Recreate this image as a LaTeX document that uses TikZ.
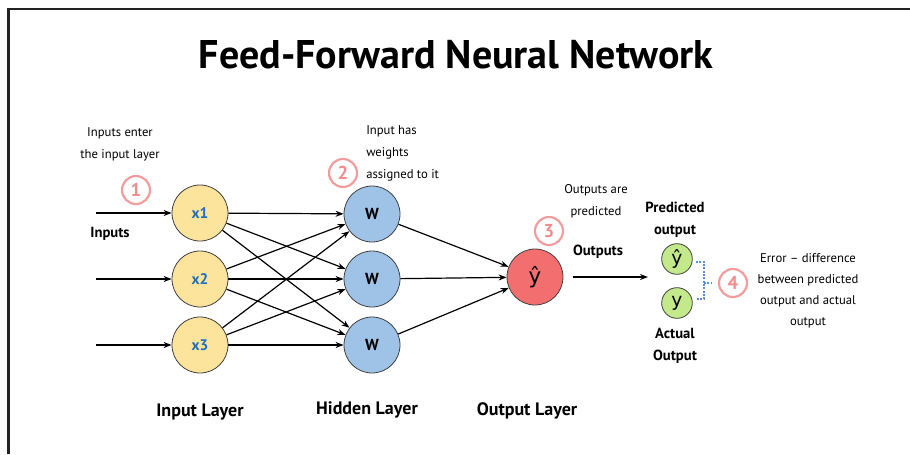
\documentclass[tikz,border=0pt]{standalone}
\usepackage{fontspec}
\setmainfont{PT Sans}
\newfontfamily\symfont{DejaVu Sans}
\usetikzlibrary{arrows.meta}

\definecolor{framegray}{HTML}{222222}
\definecolor{inyellow}{HTML}{FCE49C}
\definecolor{hidblue}{HTML}{9FC3E7}
\definecolor{outred}{HTML}{F36F6F}
\definecolor{resgreen}{HTML}{C3E98A}
\definecolor{steppink}{HTML}{F28B8B}
\definecolor{labelblue}{HTML}{1F6FC0}
\definecolor{bracketblue}{HTML}{5B8FD6}

\tikzset{
  neuron/.style={circle, draw=black!75, line width=0.6pt, minimum size=42pt, inner sep=0pt},
  innode/.style={neuron, fill=inyellow, text=labelblue, font=\bfseries\fontsize{11.5}{13}\selectfont},
  hidnode/.style={neuron, fill=hidblue, font=\bfseries\fontsize{12}{14}\selectfont},
  outnode/.style={neuron, fill=outred, font=\symfont\fontsize{16}{18}\selectfont},
  resnode/.style={neuron, fill=resgreen, minimum size=23pt, font=\symfont\fontsize{14}{16}\selectfont},
  stepmark/.style={circle, draw=steppink!85, line width=1.6pt, fill=white, minimum size=21pt,
    inner sep=0pt, text=steppink, font=\bfseries\fontsize{14}{16}\selectfont},
  note/.style={align=center, font=\fontsize{9.5}{16.5}\selectfont, inner sep=0pt},
  boldnote/.style={align=center, font=\bfseries\fontsize{11}{16.5}\selectfont, inner sep=0pt},
  layerlabel/.style={font=\bfseries\fontsize{13.5}{15}\selectfont, inner sep=0pt},
  arr/.style={-{Stealth[length=6pt,width=4.5pt]}, line width=0.9pt, black},
}

\begin{document}
\begin{tikzpicture}[x=0.75pt, y=-0.75pt]
  \useasboundingbox (0,0) rectangle (910,454);

  % frame on the left and top edges
  \draw[framegray, line width=1.6pt] (8.5,454) -- (8.5,9) -- (910,9);

  % title
  \node[font=\bfseries\fontsize{30}{32}\selectfont] (title) at (456,55) {Feed-Forward Neural Network};

  % input layer
  \node[innode] (x1) at (200,213) {x1};
  \node[innode] (x2) at (200,279) {x2};
  \node[innode] (x3) at (200,345) {x3};

  % hidden layer
  \node[hidnode] (h1) at (372,214) {W};
  \node[hidnode] (h2) at (372,279) {W};
  \node[hidnode] (h3) at (372,345) {W};

  % output layer
  \node[outnode] (yhat) at (535,277) {ŷ};

  % predicted and actual outputs
  \node[resnode] (pred) at (677,259) {ŷ};
  \node[resnode] (act) at (677,303) {y};

  % incoming inputs
  \coordinate (in1) at (96,213);
  \coordinate (in2) at (96,279);
  \coordinate (in3) at (96,345);
  \draw[arr] (in1) -- (x1);
  \draw[arr] (in2) -- (x2);
  \draw[arr] (in3) -- (x3);

  % input to hidden connections
  \foreach \i in {1,2,3}{
    \foreach \j in {1,2,3}{
      \draw[arr] (x\i) -- (h\j);
    }
  }

  % hidden to output connections
  \foreach \j in {1,2,3}{
    \draw[arr] (h\j) -- (yhat);
  }

  % network output
  \coordinate (outend) at (648,277);
  \draw[arr, shorten <=7pt] (yhat) -- (outend);

  % bracket joining predicted and actual outputs
  \coordinate (bt) at (696,262);
  \coordinate (bb) at (696,299);
  \draw[bracketblue, dash pattern=on 1.5pt off 1pt, line width=0.8pt]
    (bt) -- ++(8,0) |- (bb) (704,283) -- (712,283);

  % step markers
  \node[stepmark] (s1) at (136,190) {1};
  \node[stepmark] (s2) at (343,173) {2};
  \node[stepmark] (s3) at (549,231) {3};
  \node[stepmark] (s4) at (733,283) {4};

  % annotations
  \node[note] (n1) at (120,144) {Inputs enter\\the input layer};
  \node[boldnote] (inlab) at (110,234) {Inputs};
  \node[note, align=left, anchor=west] (n2) at (366,153) {Input has\\weights\\assigned to it};
  \node[note] (n3) at (596,201) {Outputs are\\predicted};
  \node[boldnote] (outlab) at (598,252) {Outputs};
  \node[boldnote] (predlab) at (675,220) {Predicted\\output};
  \node[boldnote] (actlab) at (675,346) {Actual\\Output};
  \node[note, font=\fontsize{9.5}{15.8}\selectfont] (n4) at (808,291) {Error -- difference\\between predicted\\output and actual\\output};

  % layer labels
  \node[layerlabel] (l1) at (200,412) {Input Layer};
  \node[layerlabel] (l2) at (367,410) {Hidden Layer};
  \node[layerlabel] (l3) at (527,411) {Output Layer};
\end{tikzpicture}
\end{document}
